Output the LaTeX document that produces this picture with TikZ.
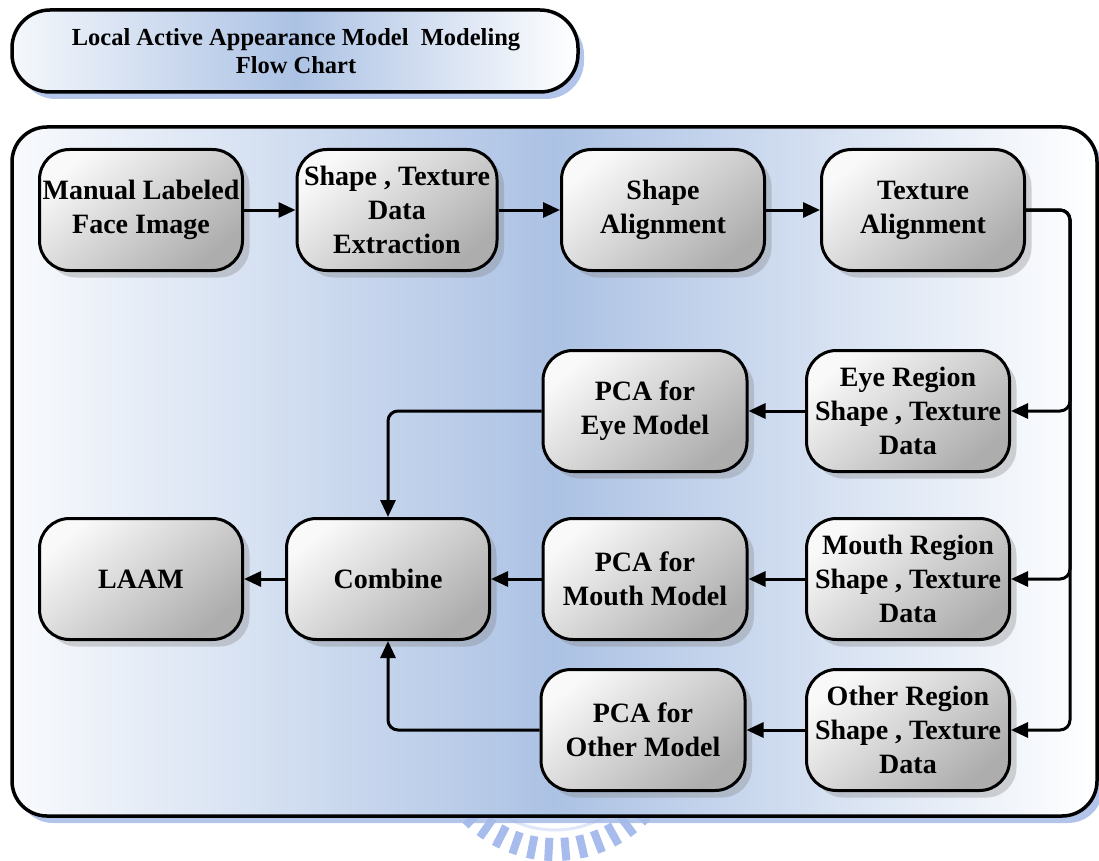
\documentclass[tikz,border=0pt]{standalone}
\usepackage{fontspec}
\setmainfont{Liberation Serif}
\usetikzlibrary{arrows.meta,shadows}
\definecolor{bgmid}{RGB}{172,194,228}
\definecolor{shblue}{RGB}{165,186,230}
\definecolor{wmblue}{RGB}{130,160,228}
\begin{document}
\begin{tikzpicture}[x=1pt,y=-1pt,
  every node/.style={font=\bfseries\fontsize{28}{34}\selectfont},
  box/.style={draw=black, line width=3pt, rounded corners=30pt,
    minimum width=203pt, minimum height=121pt, inner sep=0pt, align=center,
    top color=gray!5, bottom color=gray!64, shading angle=40,
    general shadow={fill=gray, opacity=.33, shadow xshift=7pt, shadow yshift=-7pt}},
  arr/.style={line width=3pt, -{Triangle[length=17pt,width=15pt]}, rounded corners=10pt},
  frame/.style={line width=3.5pt, general shadow={fill=shblue, opacity=.85, shadow xshift=6pt, shadow yshift=-7pt}},
]
\useasboundingbox (0,0) rectangle (1099,861);
% watermark (behind the frame)
\draw[white!75!wmblue, line width=3pt] (555,730) circle[radius=100];
\foreach \a in {45,53,...,135}
  \draw[wmblue, line width=8pt, opacity=.7] (555,730) ++(\a:108) -- ++(\a:23);
% title box
\draw[frame, rounded corners=38pt, left color=white!88!bgmid, right color=white, middle color=bgmid]
  (12,10) rectangle (578,92);
\node[font=\bfseries\fontsize{24.5}{28}\selectfont, align=center] (title) at (296,51)
  {Local Active Appearance Model\ \ Modeling\\Flow Chart};
% main frame
\draw[frame, rounded corners=35pt, left color=white!92!bgmid, right color=white, middle color=bgmid]
  (12,127) rectangle (1097,816);
% nodes
\node[box] (man)   at (141,210) {Manual Labeled\\Face Image};
\node[box, minimum width=200pt] (ext) at (397,210) {Shape , Texture\\Data\\Extraction};
\node[box] (sal)   at (663,210) {Shape\\Alignment};
\node[box] (tal)   at (923,210) {Texture\\Alignment};
\node[box, minimum width=204pt] (pcae) at (645,411) {PCA for\\Eye Model};
\node[box] (eye)   at (908,411) {Eye Region\\Shape , Texture\\Data};
\node[box] (laam)  at (141,579) {LAAM};
\node[box] (comb)  at (388,579) {Combine};
\node[box, minimum width=204pt] (pcam) at (645,579) {PCA for\\Mouth Model};
\node[box] (mouth) at (908,579) {Mouth Region\\Shape , Texture\\Data};
\node[box, minimum width=204pt] (pcao) at (643,730) {PCA for\\Other Model};
\node[box] (other) at (908,730) {Other Region\\Shape , Texture\\Data};
\coordinate (bus) at (1070,210);
% connectors
\draw[arr] (man) -- (ext);
\draw[arr] (ext) -- (sal);
\draw[arr] (sal) -- (tal);
\draw[arr] (tal.east) -- (bus) |- (eye.east);
\draw[arr] (tal.east) -- (bus) |- (mouth.east);
\draw[arr] (tal.east) -- (bus) |- (other.east);
\draw[arr] (eye) -- (pcae);
\draw[arr] (mouth) -- (pcam);
\draw[arr] (other) -- (pcao);
\draw[arr] (pcae.west) -| (comb.north);
\draw[arr] (pcam) -- (comb);
\draw[arr] (pcao.west) -| (comb.south);
\draw[arr] (comb) -- (laam);
\end{tikzpicture}
\end{document}
